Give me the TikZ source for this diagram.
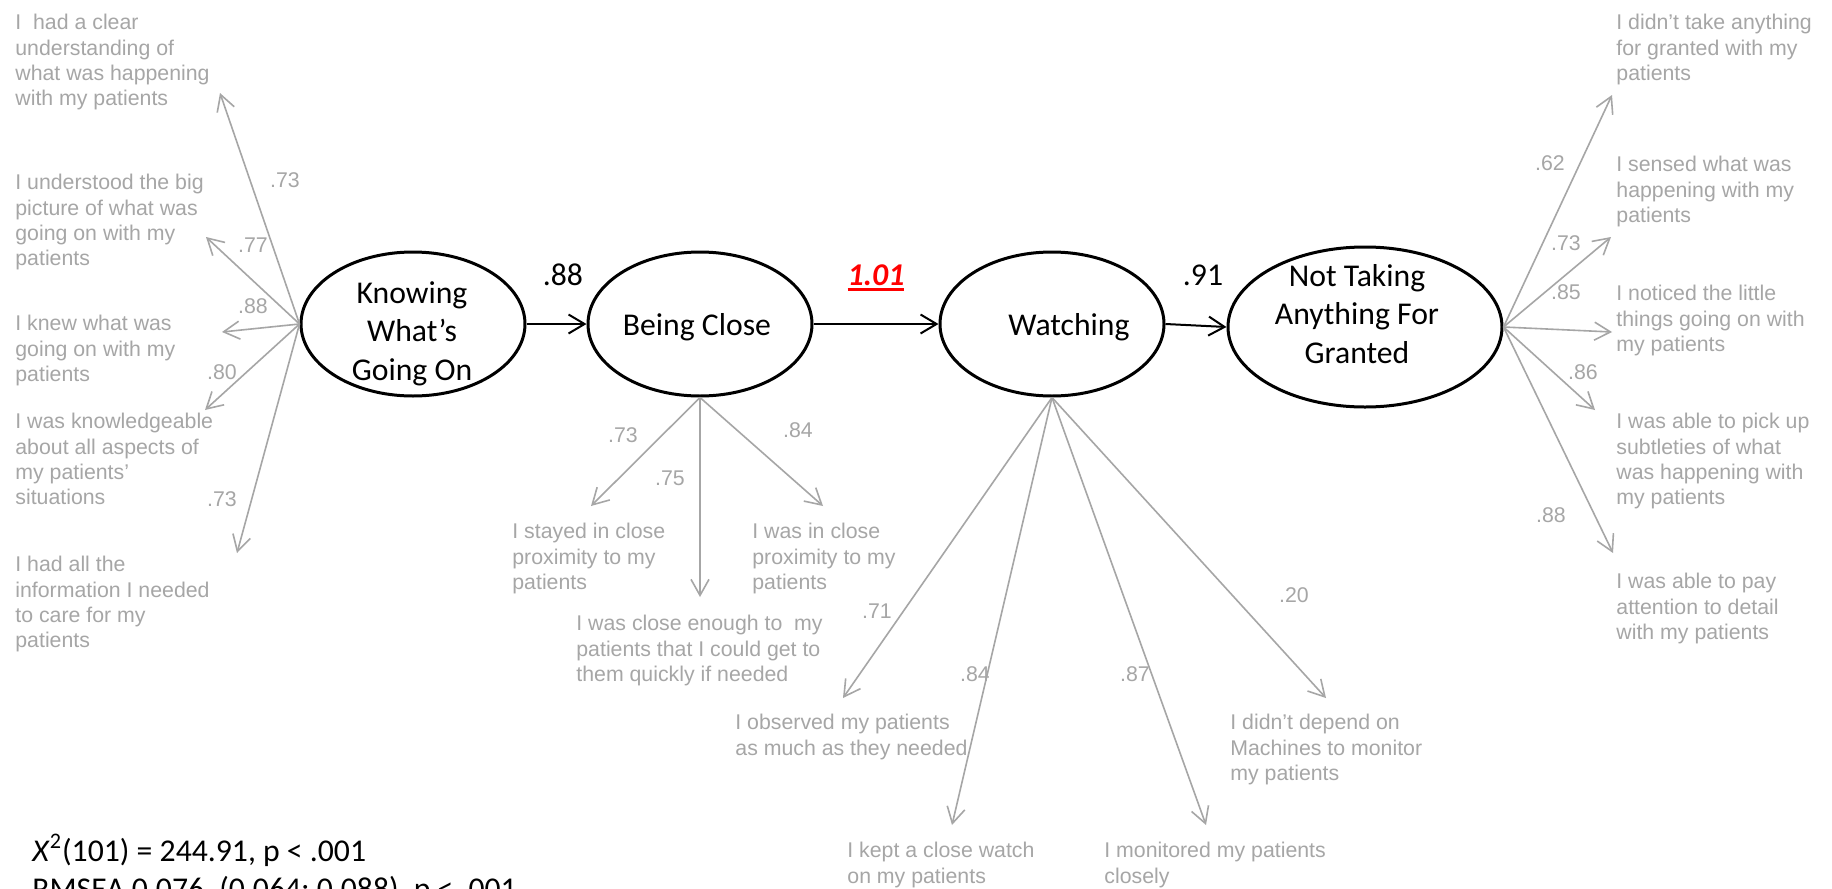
\documentclass[tikz,border=0pt]{standalone}
\usepackage{fontspec}
\setmainfont{Carlito}
\newfontfamily\grayfont{Liberation Sans}
\usetikzlibrary{shapes.geometric,arrows.meta}
\definecolor{itemgray}{RGB}{166,166,166}
\definecolor{hired}{RGB}{255,0,0}
\newcommand\ulredtext[1]{\setbox0=\hbox{#1}\rlap{\rule[-3pt]{\wd0}{1.5pt}}\box0}
\tikzset{
  latent/.style={ellipse, draw=black, line width=1.5pt, inner sep=0pt},
  lattext/.style={font=\fontsize{15.85pt}{19.2pt}\selectfont, align=center, inner sep=0pt, text=black},
  pathlbl/.style={font=\fontsize{15.85pt}{19.2pt}\selectfont, inner sep=0pt, anchor=base},
  itemtext/.style={font=\grayfont\fontsize{10.65pt}{12.6pt}\selectfont, text=itemgray, align=left, anchor=north west, inner sep=0pt},
  loadlbl/.style={font=\grayfont\fontsize{10.65pt}{12.6pt}\selectfont, text=itemgray, inner sep=0pt},
  structarrow/.style={draw=black, line width=1pt, -{Straight Barb[length=8pt,width=9.5pt]}},
  loadarrow/.style={draw=itemgray, line width=0.8pt, -{Straight Barb[length=8pt,width=9pt]}},
}
\begin{document}
\begin{tikzpicture}[x=0.5pt,y=-0.5pt]
\path[fill=white,use as bounding box] (0,0) rectangle (1832,889);

% latent variables
\node[latent, minimum width=112pt, minimum height=72pt] (kn) at (413,324) {};
\node[latent, minimum width=112pt, minimum height=72pt] (bc) at (700,324) {};
\node[latent, minimum width=112pt, minimum height=72pt] (wa) at (1052,324) {};
\node[latent, minimum width=137pt, minimum height=80pt] (nt) at (1365,327) {};
\node[lattext, anchor=north] (kntext) at (412,281) {Knowing\\What’s\\Going On};
\node[pathlbl] (bctext) at (697,335) {Being Close};
\node[pathlbl] (watext) at (1069,335) {Watching};
\node[lattext, anchor=north] (nttext) at (1357,264) {Not Taking\\Anything For\\Granted};

% structural paths
\draw[structarrow] (kn.east) -- (bc.west);
\draw[structarrow] (bc.east) -- (wa.west);
\draw[structarrow] (wa.east) -- (nt.west);
\node[pathlbl] (p1) at (563,285) {.88};
\node[pathlbl, text=hired] (p2) at (876,285) {\ulredtext{\textbf{\textit{1.01}}}};
\node[pathlbl] (p3) at (1203,285) {.91};

% Knowing items
\node[itemtext] (k1) at (15,14) {I\ \ had a clear\\understanding of\\what was happening\\with my patients};
\node[itemtext] (k2) at (15,174) {I understood the big\\picture of what was\\going on with my\\patients};
\node[itemtext] (k3) at (15,315) {I knew what was\\going on with my\\patients};
\node[itemtext] (k4) at (15,413) {I was knowledgeable\\about all aspects of\\my patients’\\situations};
\node[itemtext] (k5) at (15,556) {I had all the\\information I needed\\to care for my\\patients};
\coordinate (ka1) at (220,93);
\coordinate (ka2) at (206,237);
\coordinate (ka3) at (222,332);
\coordinate (ka4) at (205,410);
\coordinate (ka5) at (237,553);
\foreach \t in {ka1,ka2,ka3,ka4,ka5} \draw[loadarrow] (kn.west) -- (\t);
\node[loadlbl] (kl1) at (285,180) {.73};
\node[loadlbl] (kl2) at (253,245) {.77};
\node[loadlbl] (kl3) at (253,306) {.88};
\node[loadlbl] (kl4) at (222,372) {.80};
\node[loadlbl] (kl5) at (222,499) {.73};

% Being Close items
\node[itemtext] (b1) at (512,523) {I stayed in close\\proximity to my\\patients};
\node[itemtext] (b2) at (752,523) {I was in close\\proximity to my\\patients};
\node[itemtext] (b3) at (576,615) {I was close enough to\ \ my\\patients that I could get to\\them quickly if needed};
\coordinate (ba1) at (591,506);
\coordinate (ba2) at (700,597);
\coordinate (ba3) at (823,506);
\foreach \t in {ba1,ba2,ba3} \draw[loadarrow] (bc.south) -- (\t);
\node[loadlbl] (bl1) at (623,435) {.73};
\node[loadlbl] (bl2) at (670,478) {.75};
\node[loadlbl] (bl3) at (798,430) {.84};

% Watching items
\node[itemtext] (w1) at (735,714) {I observed my patients\\as much as they needed};
\node[itemtext] (w2) at (847,842) {I kept a close watch\\on my patients};
\node[itemtext] (w3) at (1104,842) {I monitored my patients\\closely};
\node[itemtext] (w4) at (1230,714) {I didn’t depend on\\Machines to monitor\\my patients};
\coordinate (wa1) at (843,698);
\coordinate (wa2) at (952,825);
\coordinate (wa3) at (1206,825);
\coordinate (wa4) at (1326,698);
\foreach \t in {wa1,wa2,wa3,wa4} \draw[loadarrow] (wa.south) -- (\t);
\node[loadlbl] (wl1) at (877,611) {.71};
\node[loadlbl] (wl2) at (975,674) {.84};
\node[loadlbl] (wl3) at (1135,674) {.87};
\node[loadlbl] (wl4) at (1294,595) {.20};

% Not Taking items
\node[itemtext] (n1) at (1616,14) {I didn’t take anything\\for granted with my\\patients};
\node[itemtext] (n2) at (1616,156) {I sensed what was\\happening with my\\patients};
\node[itemtext] (n3) at (1616,285) {I noticed the little\\things going on with\\my patients};
\node[itemtext] (n4) at (1616,413) {I was able to pick up\\subtleties of what\\was happening with\\my patients};
\node[itemtext] (n5) at (1616,573) {I was able to pay\\attention to detail\\with my patients};
\coordinate (na1) at (1612,95);
\coordinate (na2) at (1611,237);
\coordinate (na3) at (1612,332);
\coordinate (na4) at (1595,410);
\coordinate (na5) at (1613,553);
\foreach \t in {na1,na2,na3,na4,na5} \draw[loadarrow] (nt.east) -- (\t);
\node[loadlbl] (nl1) at (1550,163) {.62};
\node[loadlbl] (nl2) at (1566,243) {.73};
\node[loadlbl] (nl3) at (1566,292) {.85};
\node[loadlbl] (nl4) at (1583,372) {.86};
\node[loadlbl] (nl5) at (1551,515) {.88};

% fit statistics
\node[pathlbl, anchor=base west] (fit1) at (32,861) {\textit{X}\textsuperscript{2}(101) = 244.91, p < .001};
\node[pathlbl, anchor=base west] (fit2) at (32,899) {RMSEA 0.076, (0.064; 0.088), p < .001};
\end{tikzpicture}
\end{document}
